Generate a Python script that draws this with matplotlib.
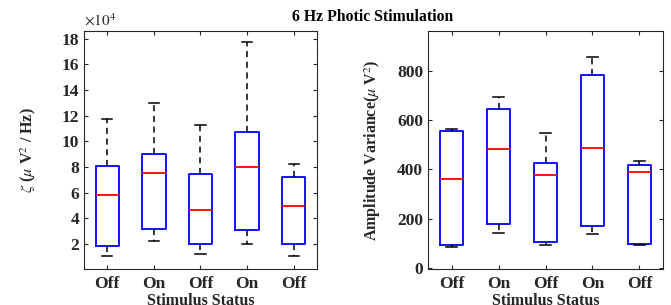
import matplotlib
matplotlib.use("Agg")
import matplotlib.pyplot as plt

plt.rcParams['font.family'] = ['Liberation Serif', 'DejaVu Serif']
plt.rcParams['mathtext.fontset'] = 'stix'

categories = ["Off", "On", "Off", "On", "Off"]

# Left panel (units of 1e4): whisker low, q1, median, q3, whisker high
zeta_low = [1.04, 2.21, 1.22, 2.03, 1.06]
zeta_q1 = [1.84, 3.15, 2.03, 3.07, 2.00]
zeta_med = [5.80, 7.50, 4.66, 8.02, 4.97]
zeta_q3 = [8.12, 9.04, 7.47, 10.73, 7.21]
zeta_high = [11.77, 13.02, 11.28, 17.77, 8.20]

# Right panel
var_low = [85, 140, 91, 139, 91]
var_q1 = [93, 178, 105, 169, 95]
var_med = [361, 484, 379, 489, 391]
var_q3 = [555, 646, 425, 784, 420]
var_high = [564, 695, 548, 857, 436]

title = "6 Hz Photic Stimulation"
xlabel = "Stimulus Status"

TXT = '#262626'

def make_stats(low, q1, med, q3, high):
    return [dict(whislo=a, q1=b, med=c, q3=d, whishi=e, fliers=[])
            for a, b, c, d, e in zip(low, q1, med, q3, high)]

fig = plt.figure(figsize=(6.71, 3.05), dpi=100)
ax1 = fig.add_axes([0.1252, 0.118, 0.3472, 0.780])
ax2 = fig.add_axes([0.638, 0.118, 0.350, 0.780])

def draw(ax, stats):
    ax.bxp(stats, positions=range(1, len(stats) + 1), widths=0.5,
           showfliers=False, patch_artist=False,
           boxprops=dict(color='#0000ff', linewidth=1.3),
           medianprops=dict(color='#ff0000', linewidth=1.3),
           whiskerprops=dict(color='black', linewidth=1.1, linestyle=(0, (4, 3))),
           capprops=dict(color='black', linewidth=1.1),
           capwidths=0.22)
    ax.set_xlim(0.5, 5.5)
    ax.set_xticks(range(1, 6))
    ax.set_xticklabels(categories)
    ax.tick_params(direction='in', top=True, right=True, length=3,
                   labelsize=12.5, colors=TXT, width=0.8)
    ax.tick_params(axis='x', pad=5)
    for lab in ax.get_xticklabels() + ax.get_yticklabels():
        lab.set_fontweight('bold')
    for s in ax.spines.values():
        s.set_color(TXT)
        s.set_linewidth(0.8)
    ax.set_xlabel(xlabel, fontsize=11.5, fontweight='bold', color=TXT, labelpad=0.5)

draw(ax1, make_stats(zeta_low, zeta_q1, zeta_med, zeta_q3, zeta_high))
ax1.set_ylim(0.05, 18.6)
ax1.set_yticks(range(2, 19, 2))
ax1.set_ylabel(r'$\zeta$ ($\mu$ V$^2$ / Hz)', fontsize=11.5, fontweight='bold', color=TXT, labelpad=17)
ax1.text(0.0, 1.01, r'$\times10^4$', transform=ax1.transAxes, fontsize=11,
         color=TXT, ha='left', va='bottom')

draw(ax2, make_stats(var_low, var_q1, var_med, var_q3, var_high))
ax2.set_ylim(-5, 963)
ax2.set_yticks(range(0, 801, 200))
ax2.set_ylabel(r'Amplitude Variance($\mu$ V$^2$)', fontsize=11.5, fontweight='bold', color=TXT, labelpad=10)

fig.text(0.555, 0.943, title, fontsize=11.3, fontweight='bold', ha='center', va='center', color='black')

fig.savefig('out.png', dpi=100)
